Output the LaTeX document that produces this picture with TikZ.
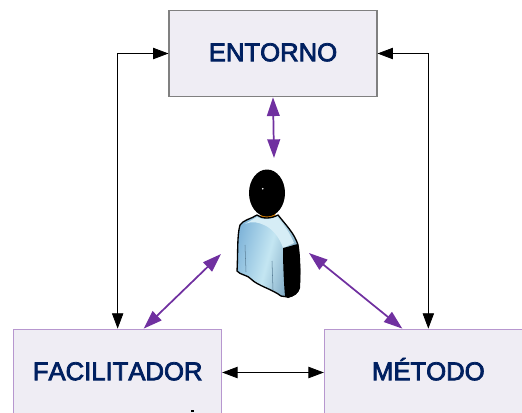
\documentclass[tikz,border=0pt]{standalone}
\usepackage{fontspec}
\setmainfont{Liberation Sans}
\newfontfamily\blockfont[FakeBold=3,Kerning=Off]{Liberation Sans}
\usepackage{tikz}
\usetikzlibrary{arrows.meta,positioning,calc}
\definecolor{boxfill}{RGB}{239,237,244}
\definecolor{boxtext}{RGB}{0,32,96}
\definecolor{linkpurple}{RGB}{112,48,160}
\definecolor{shirtdark}{RGB}{130,182,218}
\definecolor{shirtlight}{RGB}{196,230,242}
\tikzset{
  block/.style={draw=#1,fill=boxfill,line width=.8pt,minimum width=156pt,minimum height=65pt,
    inner sep=0pt,text=boxtext,text height=11.5pt,text depth=0pt,font=\blockfont\fontsize{19.25}{19.25}\selectfont},
  block/.default=gray,
  blacklink/.style={draw=black,line width=.6pt,{Triangle[length=11.5pt,width=8.5pt]}-{Triangle[length=11.5pt,width=8.5pt]}},
  purplelink/.style={draw=linkpurple,line width=1.3pt,{Triangle[length=14pt,width=9.5pt]}-{Triangle[length=14pt,width=9.5pt]}}
}
\begin{document}
\begin{tikzpicture}[x=.75pt,y=-.75pt,node distance=239.25pt and 116.5pt,on grid]
  \useasboundingbox (0,0) rectangle (522,412);
  \clip (0,0) rectangle (522,412);
  \node[block]                 (entorno)      at (273,53.5) {ENTORNO};
  \node[block=linkpurple!50]   (facilitador)  [below left=of entorno]  {FACILITADOR};
  \node[block=linkpurple!50]   (metodo)       [below right=of entorno] {MÉTODO};
  % free ends of the purple arrows, around the figure
  \coordinate (persontop)   at (274,158);
  \coordinate (personleft)  at (221,254);
  \coordinate (personright) at (309,253);
  \path[blacklink] (facilitador.north) |- (entorno.west);
  \path[blacklink] (metodo.north) |- (entorno.east);
  \path[blacklink] (facilitador) -- (metodo);
  \path[purplelink] (entorno.south) -- (persontop);
  \path[purplelink] (personleft) -- ($(facilitador.north)+(26,0)$);
  \path[purplelink] (personright) -- ($(metodo.north)+(-26,0)$);
  % figure
  \fill[orange!70!olive] (259,212) -- (276,212) -- (274,219) -- (262,219) -- cycle;
  \filldraw[draw=black,line width=1pt,left color=shirtdark,right color=shirtdark!85!black,middle color=shirtlight,shading angle=75]
    (257,215) .. controls (251,219) and (243,220) .. (240,225)
    .. controls (237,235) and (238,255) .. (237,271)
    .. controls (240,275) and (248,275) .. (251,279)
    .. controls (258,286) and (272,289) .. (281,296)
    -- (288,297) .. controls (294,296) and (298,293) .. (299,288)
    .. controls (300,272) and (300,258) .. (298,245)
    .. controls (295,234) and (285,224) .. (278,215)
    .. controls (271,219) and (262,219) .. (257,215) -- cycle;
  % pale band over the shoulders
  \fill[shirtlight!70!white] (245,224) .. controls (252,221) and (258,222) .. (264,225)
    .. controls (272,228) and (280,238) .. (283,248)
    -- (294,243) .. controls (290,233) and (284,225) .. (277,217)
    .. controls (270,220) and (262,220) .. (257,217) -- cycle;
  \fill[black] (283,248) .. controls (288,247) and (293,245) .. (298,244)
    .. controls (300,258) and (301,272) .. (300,288)
    .. controls (299,293) and (294,296) .. (288,298) -- (285,296)
    .. controls (284,285) and (283,265) .. (283,248) -- cycle;
  \draw[shirtdark!70!black,line width=.4pt] (245,245) -- (246,272) (272,261) -- (273,290);
  \fill[black] (267,193) ellipse (18 and 23.5);
  \fill[white] (262.7,188.7) circle (.9);
  % speck at the lower edge of the left box
  \fill[black] (190.5,410) rectangle (193.5,412);
\end{tikzpicture}
\end{document}
